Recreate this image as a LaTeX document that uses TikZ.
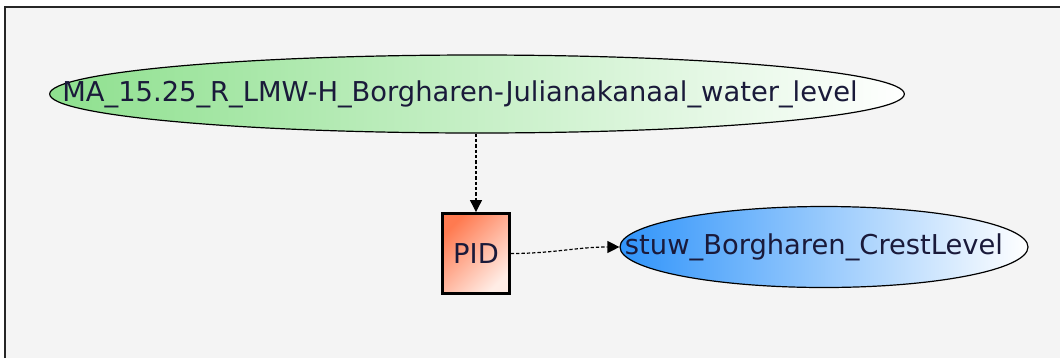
\documentclass[tikz,border=0pt]{standalone}
\usepackage{fontspec}
\setmainfont{DejaVu Sans}
\usetikzlibrary{arrows.meta, shapes.geometric}
\definecolor{bgpanel}{HTML}{F4F4F4}
\definecolor{lvlgreen}{HTML}{8EE08E}
\definecolor{crestblue}{HTML}{3094FA}
\definecolor{pidred}{HTML}{FF7A50}
\definecolor{pidlight}{HTML}{FFEDE6}
\definecolor{labelink}{HTML}{1A1A3A}
\begin{document}
\begin{tikzpicture}[x=0.75pt, y=-0.75pt,
    ell/.style={draw, ellipse, line width=0.9pt, inner sep=0pt, font=\fontsize{20.5}{24}\selectfont, text=labelink},
    ctrl/.style={draw, line width=2.2pt, minimum width=50pt, minimum height=60pt, inner sep=0pt,
        top color=pidred, bottom color=pidlight, shading angle=45, font=\fontsize{20.5}{24}\selectfont, text=labelink},
    arr/.style={-{Triangle[length=9pt, width=9pt]}, dash pattern=on 2.5pt off 1.5pt, line width=0.9pt}
]
\useasboundingbox (0,0) rectangle (1060,358);
\fill[white] (0,0) rectangle (1060,358);
\fill[bgpanel] (5,7) rectangle (1060,358);
\draw[line width=1.6pt, black!85] (5,358) -- (5,7) -- (1060,7);

\node[ell, minimum width=641pt, minimum height=58.5pt, left color=lvlgreen, right color=white] (level) at (477,94) {\makebox[0pt]{MA\_15.25\_R\_LMW-H\_Borgharen-Julianakanaal\_water\_level\hspace*{25.5pt}}};
\node[ctrl] (pid) at (476,253.5) {PID};
\node[ell, minimum width=306pt, minimum height=60.75pt, left color=crestblue, right color=white] (crest) at (824,247) {\makebox[0pt]{stuw\_Borgharen\_CrestLevel\hspace*{15pt}}};

\draw[arr] (level.south -| pid.north) -- (pid.north);
\draw[arr] (pid.east) to[out=0, in=180] (crest.west);
\end{tikzpicture}
\end{document}
